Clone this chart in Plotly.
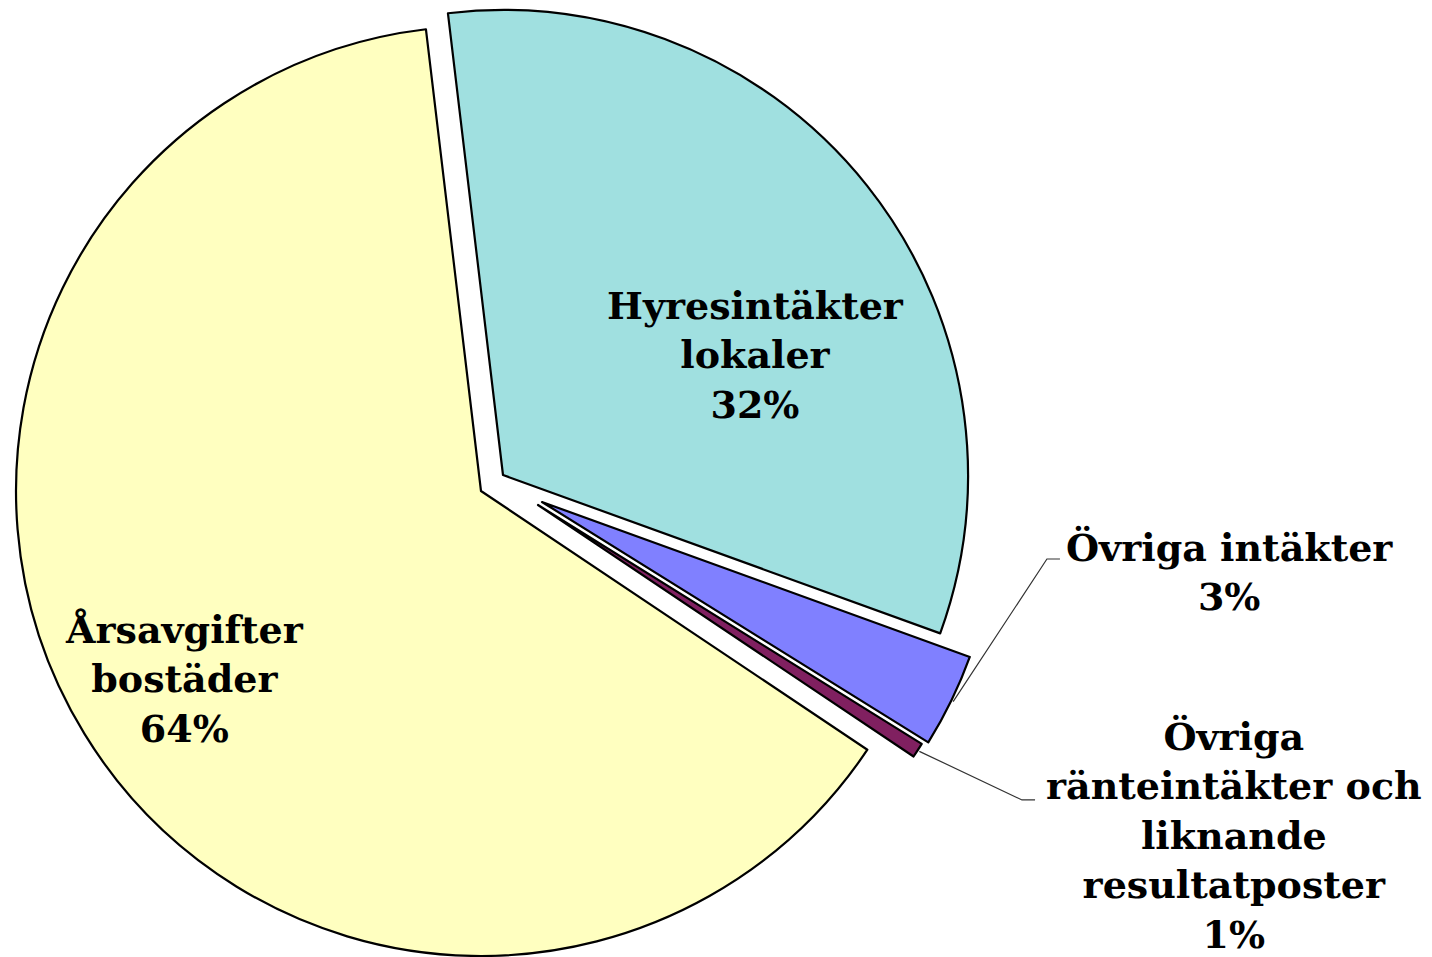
import math
import plotly.graph_objects as go

# ---------------- data ----------------
categories = [
    "Hyresintäkter lokaler",
    "Övriga intäkter",
    "Övriga ränteintäkter och liknande resultatposter",
    "Årsavgifter bostäder",
]
shares = [32.42, 3.33, 0.53, 63.72]          # per cent of total income
pct_labels = ["32%", "3%", "1%", "64%"]
label_lines = [
    ["Hyresintäkter", "lokaler"],
    ["Övriga intäkter"],
    ["Övriga", "ränteintäkter och", "liknande", "resultatposter"],
    ["Årsavgifter", "bostäder"],
]

# ---------------- styles / layout ----------------
W, H = 1432, 957
colors = ["#A0E0E0", "#8080FF", "#802060", "#FFFFC0"]
START_ANGLE = -6.8                      # degrees clockwise from 12 o'clock
# each (exploded) slice gets its own pie centre / radius in pixels
slice_centers = [(503, 475), (542, 502), (538, 505), (481, 491)]
slice_radii = [465, 455, 452, 465]
# label positions in pixels (centre of text block)
label_pos = [(755, 355), (1229, 572), (1234, 835), (184, 679)]
FONT = "DejaVu Serif"
FSIZE = 38

fig = go.Figure()
draw_order = [3, 0, 1, 2]
for i in draw_order:
    cx, cy = slice_centers[i]
    r = slice_radii[i]
    fills = [colors[j] if j == i else "rgba(0,0,0,0)" for j in range(len(shares))]
    lcol = ["black" if j == i else "rgba(0,0,0,0)" for j in range(len(shares))]
    lw = [2.2 if j == i else 0 for j in range(len(shares))]
    fig.add_trace(go.Pie(
        labels=categories,
        values=shares,
        sort=False,
        direction="clockwise",
        rotation=START_ANGLE,
        marker=dict(colors=fills, line=dict(color=lcol, width=lw)),
        textinfo="none",
        hoverinfo="label+percent",
        showlegend=False,
        domain=dict(
            x=[(cx - r) / W, (cx + r) / W],
            y=[max(0.0, 1 - (cy + r) / H), min(1.0, 1 - (cy - r) / H)],
        ),
    ))

# labels
for i in range(len(shares)):
    x, y = label_pos[i]
    txt = "<br>".join("<b>%s</b>" % s for s in label_lines[i] + [pct_labels[i]])
    fig.add_annotation(
        x=x / W, y=1 - y / H, xref="paper", yref="paper",
        text=txt, showarrow=False, xanchor="center", yanchor="middle",
        font=dict(family=FONT, size=FSIZE, color="black"),
    )

# leader lines for the two small slices
total = sum(shares)
def mid_angle(k):
    before = sum(shares[:k])
    return START_ANGLE + (before + shares[k] / 2) / total * 360

elbows = {1: ((1047, 559), (1060, 559)), 2: ((1022, 800), (1035, 800))}
for k, (elb, end) in elbows.items():
    a = math.radians(mid_angle(k))
    cx, cy = slice_centers[k]
    r = slice_radii[k] + 2
    ax, ay = cx + r * math.sin(a), cy - r * math.cos(a)
    pts = [(ax, ay), elb, end]
    path = "M " + " L ".join("%.4f,%.4f" % (px / W, 1 - py / H) for px, py in pts)
    fig.add_shape(type="path", path=path, xref="paper", yref="paper",
                  line=dict(color="#333333", width=1.2))

fig.update_layout(
    width=W, height=H,
    autosize=False,
    margin=dict(l=0, r=0, t=0, b=0),
    paper_bgcolor="white",
    plot_bgcolor="white",
    showlegend=False,
)
fig.write_html(
    "out.html",
    config={"displayModeBar": False},
    post_script=(
        "document.documentElement.style.margin='0';"
        "document.body.style.margin='0';"
        "document.documentElement.style.overflow='hidden';"
        "document.body.style.overflow='hidden';"
    ),
)
